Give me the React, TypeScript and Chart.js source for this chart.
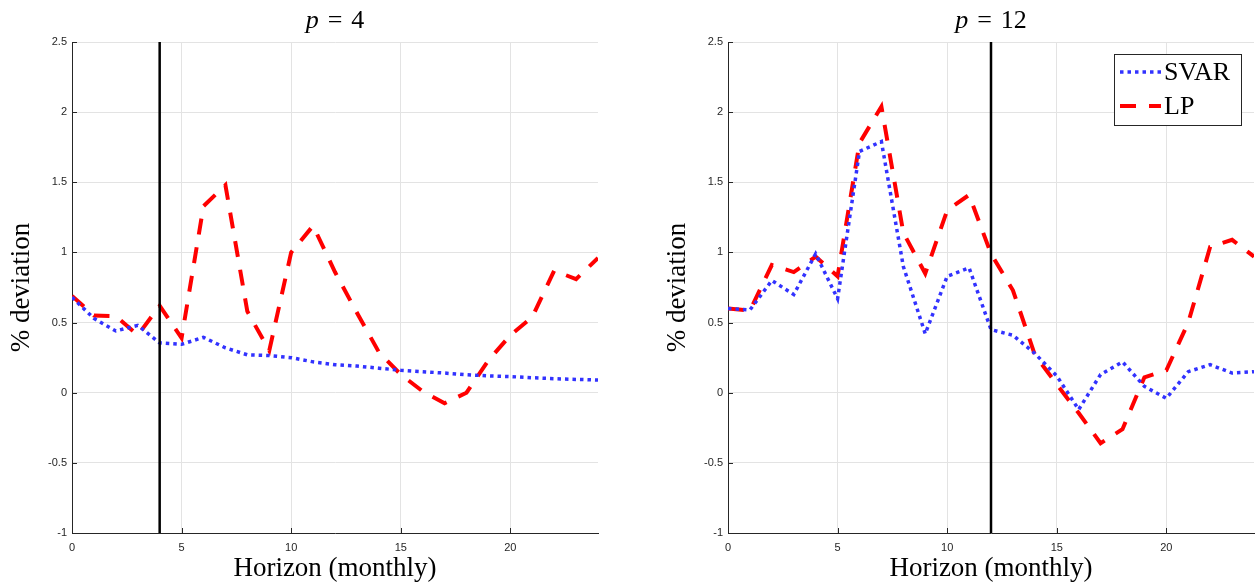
import React, { useEffect, useRef } from 'react';
import { Chart, registerables } from 'chart.js';

Chart.register(...registerables);

// ---------- data ----------
const horizons = [0, 1, 2, 3, 4, 5, 6, 7, 8, 9, 10, 11, 12, 13, 14, 15, 16, 17, 18, 19, 20, 21, 22, 23, 24];

const svarP4 = [0.68, 0.53, 0.44, 0.48, 0.355, 0.345, 0.395, 0.32, 0.27, 0.265, 0.25, 0.22, 0.2, 0.19, 0.175, 0.16, 0.15, 0.14, 0.128, 0.12, 0.115, 0.107, 0.1, 0.095, 0.09];
const lpP4 = [0.69, 0.55, 0.545, 0.41, 0.62, 0.39, 1.33, 1.48, 0.58, 0.3, 1.0, 1.19, 0.86, 0.57, 0.29, 0.13, 0.01, -0.075, 0.0, 0.23, 0.41, 0.54, 0.87, 0.81, 0.96];

const svarP12 = [0.6, 0.59, 0.8, 0.7, 0.99, 0.67, 1.72, 1.79, 0.9, 0.42, 0.83, 0.89, 0.45, 0.41, 0.28, 0.12, -0.12, 0.13, 0.22, 0.045, -0.04, 0.15, 0.2, 0.14, 0.15];
const lpP12 = [0.6, 0.585, 0.91, 0.86, 0.97, 0.83, 1.78, 2.04, 1.14, 0.85, 1.3, 1.41, 0.99, 0.73, 0.27, 0.06, -0.145, -0.36, -0.26, 0.11, 0.16, 0.5, 1.04, 1.09, 0.97];

const lagOrders = [4, 12];
const seriesNames = ['SVAR', 'LP'];

const xTickValues = [0, 5, 10, 15, 20];
const xTickLabels = ['0', '5', '10', '15', '20'];
const yTickValues = [-1, -0.5, 0, 0.5, 1, 1.5, 2, 2.5];
const yTickLabels = ['-1', '-0.5', '0', '0.5', '1', '1.5', '2', '2.5'];

const xMin = 0;
const xMax = 24;
const yMin = -1;
const yMax = 2.5;

const xTitle = 'Horizon (monthly)';
const yTitle = '% deviation';

// ---------- styles ----------
const BLUE = '#3232ff';
const RED = '#ff0000';
const AXIS = '#262626';
const GRID = '#e3e3e3';
const SERIF = '"Liberation Serif", "Times New Roman", serif';
const SANS = '"Liberation Sans", Arial, sans-serif';

const mathTitlePlugin = {
  id: 'mathTitle',
  afterDraw(chart: any, _args: any, opts: any) {
    const { ctx, chartArea } = chart;
    const num = String(opts.num);
    const size = 26;
    const italic = `italic ${size}px ${SERIF}`;
    const roman = `${size}px ${SERIF}`;
    ctx.save();
    ctx.fillStyle = '#000';
    ctx.textBaseline = 'alphabetic';
    ctx.textAlign = 'left';
    ctx.font = italic;
    const wp = ctx.measureText('p').width;
    ctx.font = roman;
    const we = ctx.measureText('=').width;
    const wn = ctx.measureText(num).width;
    const gap = 9;
    const total = wp + gap + we + gap + wn;
    let x = (chartArea.left + chartArea.right) / 2 - total / 2;
    const y = 28;
    ctx.font = italic;
    ctx.fillText('p', x, y);
    x += wp + gap;
    ctx.font = roman;
    ctx.fillText('=', x, y);
    x += we + gap;
    ctx.fillText(num, x, y);
    ctx.restore();
  },
};

const inwardTicksPlugin = {
  id: 'inwardTicks',
  afterDraw(chart: any) {
    const { ctx, chartArea, scales } = chart;
    ctx.save();
    ctx.strokeStyle = AXIS;
    ctx.lineWidth = 1;
    for (const t of scales.y.ticks) {
      const py = Math.round(scales.y.getPixelForValue(t.value)) + 0.5;
      ctx.beginPath();
      ctx.moveTo(chartArea.left, py);
      ctx.lineTo(chartArea.left + 5, py);
      ctx.stroke();
    }
    for (const t of scales.x.ticks) {
      const px = Math.round(scales.x.getPixelForValue(t.value)) + 0.5;
      ctx.beginPath();
      ctx.moveTo(px, chartArea.bottom);
      ctx.lineTo(px, chartArea.bottom - 5);
      ctx.stroke();
    }
    ctx.restore();
  },
};

const boxLegendPlugin = {
  id: 'boxLegend',
  afterDraw(chart: any, _args: any, opts: any) {
    if (!opts || !opts.show) return;
    const { ctx, chartArea } = chart;
    const items = chart.data.datasets.filter((d: any) => d.label);
    const w = 127;
    const h = 71;
    const bx = chartArea.right - 13 - w;
    const by = chartArea.top + 12;
    ctx.save();
    ctx.fillStyle = '#fff';
    ctx.fillRect(bx, by, w, h);
    ctx.strokeStyle = AXIS;
    ctx.lineWidth = 1;
    ctx.strokeRect(Math.round(bx) + 0.5, Math.round(by) + 0.5, w, h);
    items.forEach((d: any, i: number) => {
      const cy = by + 18 + i * 34;
      ctx.beginPath();
      ctx.strokeStyle = d.borderColor;
      ctx.lineWidth = d.borderWidth;
      ctx.setLineDash(d.borderDash || []);
      ctx.lineCap = 'butt';
      ctx.moveTo(bx + 6, cy);
      ctx.lineTo(bx + 47, cy);
      ctx.stroke();
      ctx.setLineDash([]);
      ctx.fillStyle = '#000';
      ctx.font = `26px ${SERIF}`;
      ctx.textBaseline = 'middle';
      ctx.textAlign = 'left';
      ctx.fillText(d.label, bx + 50, cy + 1);
    });
    ctx.restore();
  },
};

function pts(ys: number[]) {
  return horizons.map((h, i) => ({ x: h, y: ys[i] }));
}

function Panel(props: { left: number; width: number; padRight: number; svar: number[]; lp: number[]; p: number; showLegend: boolean }) {
  const ref = useRef<HTMLCanvasElement | null>(null);
  useEffect(() => {
    const canvas = ref.current!;
    const chart = new Chart(canvas, {
      type: 'line',
      data: {
        datasets: [
          {
            data: [
              { x: props.p, y: yMin },
              { x: props.p, y: yMax },
            ],
            borderColor: '#000',
            borderWidth: 2.5,
            pointRadius: 0,
          } as any,
          {
            label: seriesNames[0],
            data: pts(props.svar),
            borderColor: BLUE,
            borderWidth: 3.5,
            borderDash: [3.5, 4],
            borderCapStyle: 'butt',
            pointRadius: 0,
            tension: 0,
          },
          {
            label: seriesNames[1],
            data: pts(props.lp),
            borderColor: RED,
            borderWidth: 4,
            borderDash: [16, 13],
            borderCapStyle: 'butt',
            pointRadius: 0,
            tension: 0,
          },
        ],
      },
      options: {
        responsive: false,
        animation: false,
        devicePixelRatio: 1,
        layout: { padding: { top: 42, right: props.padRight, left: 0, bottom: 0 } },
        plugins: {
          legend: { display: false },
          tooltip: { enabled: false },
          title: { display: false },
          mathTitle: { num: props.p },
          boxLegend: { show: props.showLegend },
        } as any,
        scales: {
          x: {
            type: 'linear',
            min: xMin,
            max: xMax,
            afterFit: (s: any) => {
              s.height = 55;
            },
            ticks: {
              stepSize: 5,
              includeBounds: false,
              autoSkip: false,
              maxRotation: 0,
              padding: 8,
              color: AXIS,
              font: { family: SANS, size: 11 },
              callback: (v: any) => {
                const i = xTickValues.indexOf(Number(v));
                return i >= 0 ? xTickLabels[i] : '';
              },
            },
            grid: { color: GRID, drawTicks: false, lineWidth: 1 },
            border: { display: true, color: AXIS, width: 1 },
            title: {
              display: true,
              text: xTitle,
              color: '#000',
              font: { family: SERIF, size: 27 },
              padding: { top: 0, bottom: 3 },
            },
          },
          y: {
            type: 'linear',
            min: yMin,
            max: yMax,
            afterFit: (s: any) => {
              s.width = 72;
            },
            ticks: {
              stepSize: 0.5,
              autoSkip: false,
              padding: 5,
              color: AXIS,
              font: { family: SANS, size: 11 },
              callback: (v: any) => {
                const i = yTickValues.indexOf(Number(v));
                return i >= 0 ? yTickLabels[i] : '';
              },
            },
            grid: { color: GRID, drawTicks: false, lineWidth: 1 },
            border: { display: true, color: AXIS, width: 1 },
            title: {
              display: true,
              text: yTitle,
              color: '#000',
              font: { family: SERIF, size: 27 },
              padding: { top: 6, bottom: 0 },
            },
          },
        },
      } as any,
      plugins: [mathTitlePlugin, inwardTicksPlugin, boxLegendPlugin] as any,
    });
    return () => chart.destroy();
  }, []);
  return (
    <canvas
      ref={ref}
      width={props.width}
      height={588}
      style={{ position: 'absolute', left: props.left, top: 0, width: props.width, height: 588 }}
    />
  );
}

export default function App() {
  return (
    <div style={{ position: 'absolute', left: 0, top: 0, width: 1255, height: 588, background: '#fff', overflow: 'hidden' }}>
      <Panel left={0} width={627} padRight={29} svar={svarP4} lp={lpP4} p={lagOrders[0]} showLegend={false} />
      <Panel left={656} width={599} padRight={1} svar={svarP12} lp={lpP12} p={lagOrders[1]} showLegend={true} />
    </div>
  );
}
